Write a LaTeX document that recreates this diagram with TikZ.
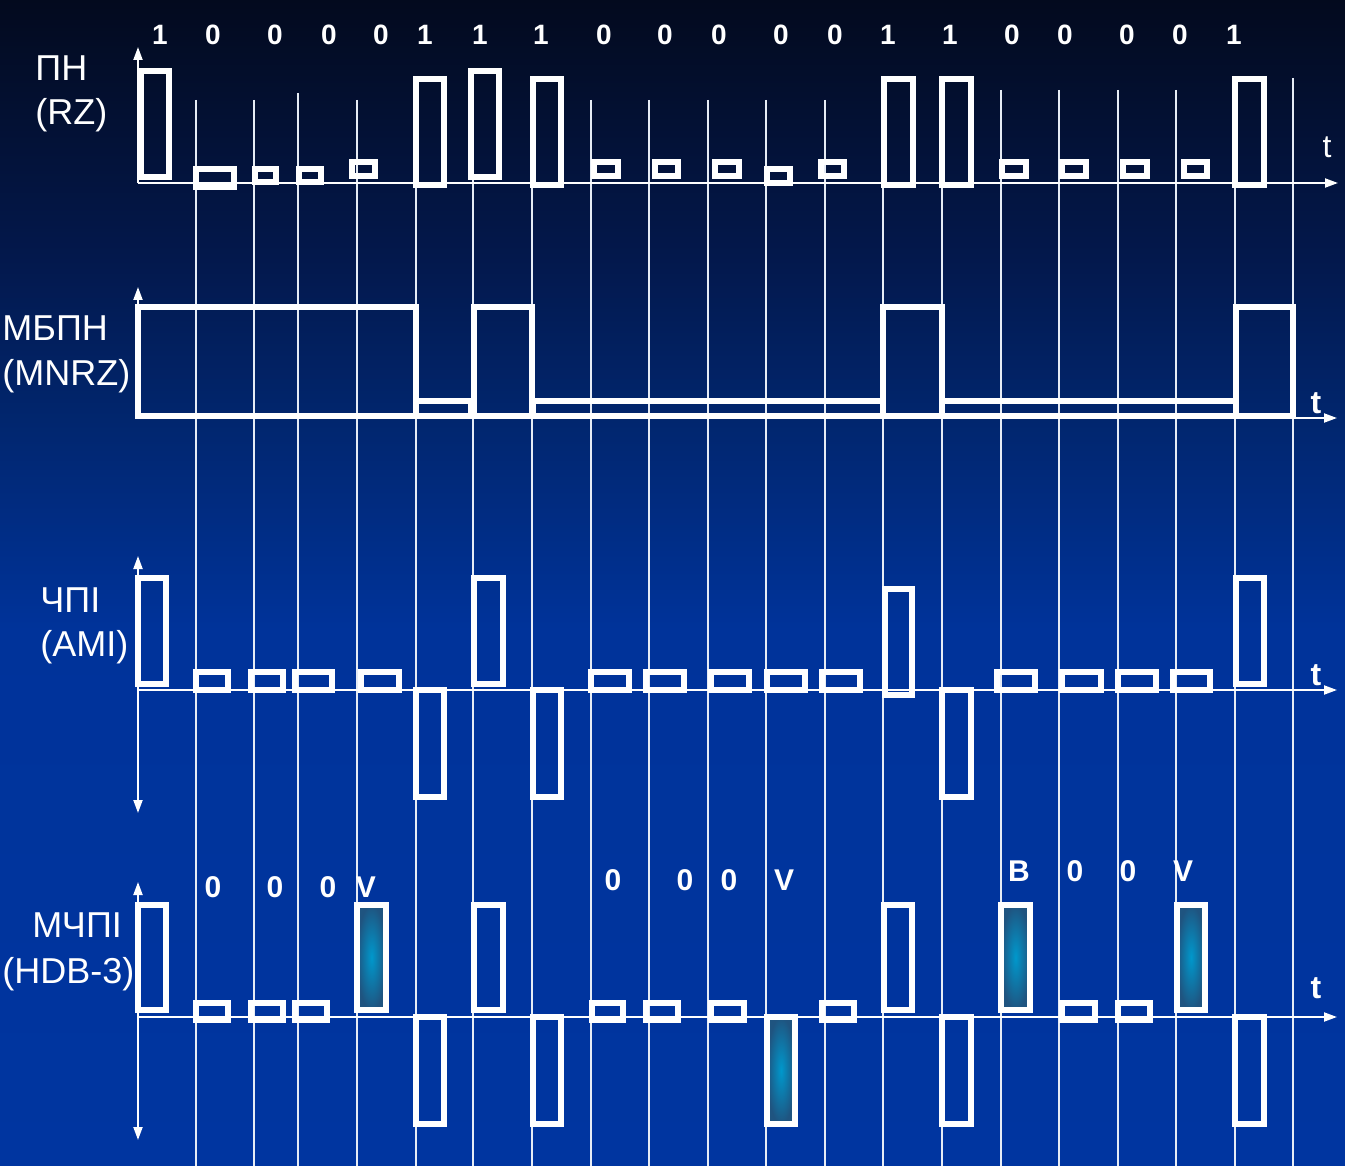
\documentclass[tikz,border=0pt]{standalone}
\usepackage{fontspec}
\setmainfont{Liberation Sans}
\usepackage{tikz}
\usetikzlibrary{arrows.meta}
\definecolor{SkyTop}{HTML}{030A1E}
\definecolor{SkyHigh}{HTML}{03184C}
\definecolor{SkyMid}{HTML}{01266E}
\definecolor{SkyLow}{HTML}{00339A}
\definecolor{SkyBot}{HTML}{0035A0}
\definecolor{ViolCore}{HTML}{0098CC}
\definecolor{ViolEdge}{HTML}{1F5480}
\definecolor{GridInk}{HTML}{E6ECF5}
\pgfdeclareverticalshading{skyfade}{100bp}{%
  color(0bp)=(SkyBot); color(25bp)=(SkyBot); color(48bp)=(SkyLow);
  color(57bp)=(SkyMid); color(64bp)=(SkyHigh); color(75bp)=(SkyTop);
  color(100bp)=(SkyTop)}

\begin{document}
\begin{tikzpicture}[
  x=0.5pt, y=-0.5pt,
  font=\fontsize{18}{20}\selectfont,
  bitgrid/.style={draw=GridInk, line width=1pt},
  axisline/.style={draw=white, line width=1pt,
                   -{Triangle[length=6.5pt,width=4.5pt]}},
  axisboth/.style={axisline,
                   {Triangle[length=6.5pt,width=4.5pt]}-{Triangle[length=6.5pt,width=4.5pt]}},
  pulse/.style={draw=white, line width=2.8pt},
  viol/.style={pulse, inner color=ViolCore, outer color=ViolEdge},
  sig/.style={text=white, anchor=base west, inner sep=0pt},
  bitlbl/.style={text=white, font=\bfseries\fontsize{14}{14}\selectfont,
                 anchor=base, inner sep=0pt},
  codelbl/.style={bitlbl, font=\bfseries\fontsize{15}{15}\selectfont},
  tlbl/.style={text=white, font=\fontsize{16}{16}\selectfont,
               anchor=base, inner sep=0pt},
  tbold/.style={tlbl, font=\bfseries\fontsize{16}{16}\selectfont},
]

% ── background ───────────────────────────────────────────────────────────
\useasboundingbox (0,0) rectangle (1345,1166);
\shade[shading=skyfade] (0,0) rectangle (1345,1166);

% ── bit clock grid ───────────────────────────────────────────────────────
\foreach \gx/\gy in {196/100, 254/100, 298/93, 357/100, 416/100, 473/100,
    532/100, 591/100, 649/100, 708/100, 766/100, 825/100, 883/90, 942/90,
    1001/90, 1059/90, 1118/90, 1176/90, 1235/90, 1293/78}
  \draw[bitgrid] (\gx,\gy) -- (\gx,1166);

% ── data bits ────────────────────────────────────────────────────────────
\foreach \bx/\bv [count=\i] in {160/1, 213/0, 275/0, 329/0, 381/0, 425/1,
    480/1, 541/1, 604/0, 665/0, 719/0, 781/0, 835/0, 888/1, 950/1,
    1012/0, 1065/0, 1127/0, 1180/0, 1234/1}
  \node[bitlbl] (bit\i) at (\bx,45) {\bv};

% ── RZ ───────────────────────────────────────────────────────────────────
\node[sig] (rzname) at (35,81)  {ПН};
\node[sig] (rzcode) at (35,125) {(RZ)};
\draw[axisline] (138,183) -- (138,47);
\draw[axisline] (138,183) -- (1338,183);
\node[tlbl] (trz) at (1327,158) {t};
\foreach \xa/\ya/\xb/\yb in {141/71/169/177, 196/169/234/187,
    255/169/276/182, 299/169/321/182, 352/162/375/176, 416/79/444/185,
    471/71/499/177, 533/79/561/185, 594/162/618/176, 655/162/678/176,
    715/162/739/176, 767/169/790/183, 821/162/844/176, 884/79/913/185,
    942/79/971/185, 1002/162/1026/176, 1062/162/1086/176,
    1123/162/1147/176, 1184/162/1207/176, 1235/79/1264/185}
  \draw[pulse] (\xa,\ya) rectangle (\xb,\yb);

% ── MNRZ ─────────────────────────────────────────────────────────────────
\node[sig] (nrzname) at (2,341) {МБПН};
\node[sig] (nrzcode) at (2,386) {(MNRZ)};
\draw[axisline] (138,418) -- (138,287);
\draw[axisline] (138,418) -- (1337,418);
\node[tbold] (tnrz) at (1316,414) {t};
\foreach \xa/\ya/\xb/\yb in {138/307/416/416, 416/401/471/416,
    474/307/532/416, 533/401/883/416, 883/307/942/416,
    942/401/1236/416, 1236/307/1293/416}
  \draw[pulse] (\xa,\ya) rectangle (\xb,\yb);

% ── AMI ──────────────────────────────────────────────────────────────────
\node[sig] (aminame) at (40,612) {ЧПІ};
\node[sig] (amicode) at (40,656) {(AMI)};
\draw[axisboth] (138,813) -- (138,556);
\draw[axisline] (138,690) -- (1337,690);
\node[tbold] (tami) at (1316,685) {t};
\foreach \xa/\ya/\xb/\yb in {138/578/166/684, 196/672/228/690,
    251/672/283/690, 295/672/332/690, 361/672/399/690, 416/690/444/797,
    474/578/503/684, 533/690/561/797, 591/672/629/690, 646/672/684/690,
    711/672/749/690, 767/672/805/690, 822/672/860/690, 885/589/912/695,
    942/690/971/797, 997/672/1035/690, 1062/672/1101/690,
    1118/672/1156/690, 1173/672/1210/690, 1236/578/1264/684}
  \draw[pulse] (\xa,\ya) rectangle (\xb,\yb);

% ── HDB-3 ────────────────────────────────────────────────────────────────
\node[sig] (hdbname) at (32,937) {МЧПІ};
\node[sig] (hdbcode) at (2,983)  {(HDB-3)};
\draw[axisboth] (138,1140) -- (138,882);
\draw[axisline] (138,1017) -- (1337,1017);
\node[tbold] (thdb) at (1316,998) {t};
\foreach \lx/\ly/\lv [count=\i] in {213/897/0, 275/897/0, 328/897/0,
    366/897/V, 613/890/0, 685/890/0, 729/890/0, 784/890/V,
    1019/881/B, 1075/881/0, 1128/881/0, 1183/881/V}
  \node[codelbl] (hdb\i) at (\lx,\ly) {\lv};
\foreach \xa/\ya/\xb/\yb in {138/905/166/1010, 196/1003/228/1020,
    251/1003/283/1020, 295/1003/327/1020, 416/1017/444/1124,
    474/905/503/1010, 533/1017/561/1124, 592/1003/623/1020,
    646/1003/678/1020, 711/1003/744/1020, 822/1003/854/1020,
    884/905/912/1010, 942/1017/971/1124, 1062/1003/1095/1020,
    1118/1003/1150/1020, 1235/1017/1264/1124}
  \draw[pulse] (\xa,\ya) rectangle (\xb,\yb);
% violation and balancing pulses
\foreach \xa/\ya/\xb/\yb in {357/905/386/1010, 767/1017/795/1124,
    1001/905/1030/1010, 1177/905/1205/1010}
  \draw[viol] (\xa,\ya) rectangle (\xb,\yb);

\end{tikzpicture}
\end{document}
